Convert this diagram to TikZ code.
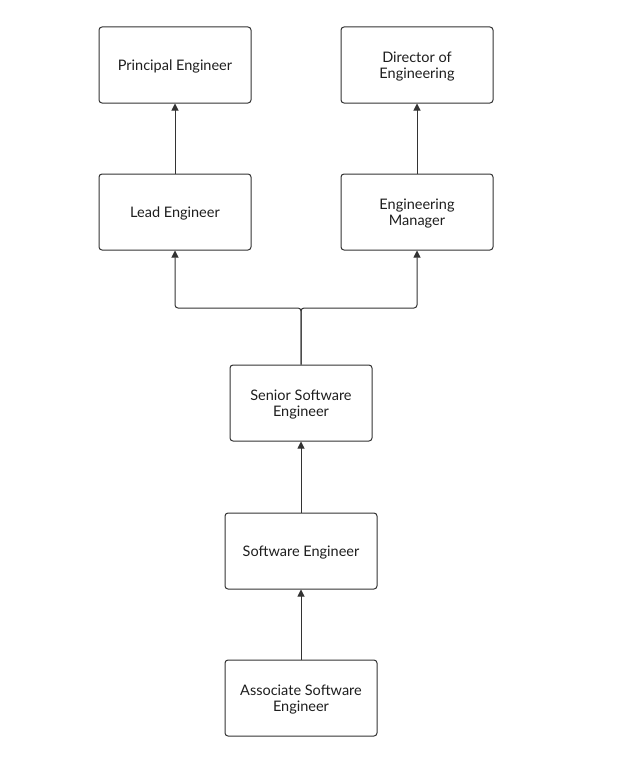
\documentclass[tikz,border=0pt]{standalone}
\usepackage{fontspec}
\setmainfont{Lato}
\usetikzlibrary{arrows.meta}
\definecolor{ink}{HTML}{333333}
\definecolor{txt}{HTML}{1E1E1E}
\newcommand{\rolelabel}[1]{\raisebox{-2.5pt}[\height][\depth]{\begin{tabular}{@{}c@{}}#1\end{tabular}}}
\tikzset{
  rolebox/.style={draw=ink, line width=1pt, rounded corners=3pt, fill=white,
    minimum width=152pt, minimum height=76pt, inner sep=0pt,
    font=\fontsize{14.5}{16}\selectfont, text=txt},
  arr/.style={draw=ink, line width=1pt, -{Triangle[length=7pt,width=7pt]}},
}
\begin{document}
\begin{tikzpicture}[x=1pt,y=-1pt]
\useasboundingbox (0,0) rectangle (631,768);
\node[rolebox] (pe) at (175,65) {\rolelabel{Principal Engineer}};
\node[rolebox] (doe) at (417,65) {\rolelabel{Director of\\Engineering}};
\node[rolebox] (le) at (175,212) {\rolelabel{Lead Engineer}};
\node[rolebox] (em) at (417,212) {\rolelabel{Engineering\\Manager}};
\node[rolebox, minimum width=142pt] (sse) at (301,403) {\rolelabel{Senior Software\\Engineer}};
\node[rolebox] (se) at (301,551) {\rolelabel{Software Engineer}};
\node[rolebox] (ase) at (301,698) {\rolelabel{Associate Software\\Engineer}};
\coordinate (j) at (301,308);
\draw[arr] (ase) -- (se);
\draw[arr] (se) -- (sse);
\draw[arr, rounded corners=3pt] (sse.north) -- (j) -| (le.south);
\draw[arr, rounded corners=3pt] (sse.north) -- (j) -| (em.south);
\draw[arr] (le) -- (pe);
\draw[arr] (em) -- (doe);
\end{tikzpicture}
\end{document}
